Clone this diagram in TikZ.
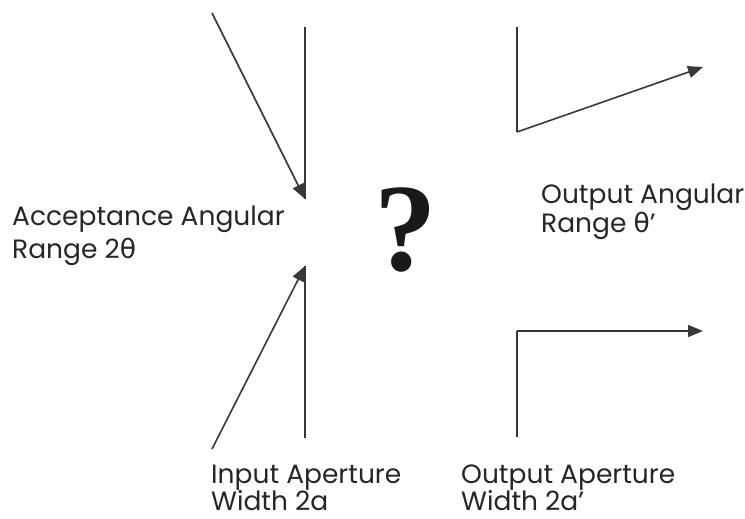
\documentclass[tikz,border=0pt]{standalone}
\usepackage{fontspec}
\setmainfont{Poppins}
\newfontfamily\grk{DejaVu Sans}
\newfontfamily\qfont{Liberation Serif}
\usetikzlibrary{arrows.meta}
\begin{document}
\begin{tikzpicture}[x=1pt,y=-1pt,
  ray/.style={line width=1.6pt, draw=black!78},
  tipped/.style={-{Triangle[length=15pt,width=12pt]}},
  lbl/.style={anchor=base west, inner sep=0pt, font=\fontsize{26.5}{30}\selectfont, text=black!85}]
\useasboundingbox (0,0) rectangle (745,519);
% input aperture
\coordinate (inTop) at (305,27);
\coordinate (inUpEnd) at (305,199);
\coordinate (inLowEnd) at (305,266);
\coordinate (inBot) at (305,438);
\coordinate (rayInA) at (212,13);
\coordinate (rayInB) at (212,449);
\draw[ray] (inTop) -- (inUpEnd);
\draw[ray,tipped] (rayInA) -- (inUpEnd);
\draw[ray] (inLowEnd) -- (inBot);
\draw[ray,tipped] (rayInB) -- (inLowEnd);
% output aperture
\coordinate (outTop) at (517,27);
\coordinate (outUpCorner) at (517,132);
\coordinate (outUpTip) at (703,67);
\coordinate (outBot) at (517,437);
\coordinate (outLowCorner) at (517,331);
\coordinate (outLowTip) at (703,331);
\draw[ray] (outTop) -- (outUpCorner);
\draw[ray,tipped] (outUpCorner) -- (outUpTip);
\draw[ray] (outBot) -- (outLowCorner);
\draw[ray,tipped] (outLowCorner) -- (outLowTip);
% question mark
\node[inner sep=0pt, font=\qfont\bfseries\fontsize{125}{125}\selectfont, text=black!90] (qm) at (406,230) {?};
% labels
\node[lbl] (acc1) at (12,225) {Acceptance Angular};
\node[lbl] (acc2) at (12,258) {Range 2{\grk θ}};
\node[lbl] (out1) at (541,203) {Output Angular};
\node[lbl] (out2) at (541,232) {Range {\grk θ}’};
\node[lbl] (inap1) at (211,483) {Input Aperture};
\node[lbl, text depth=0pt] (inap2) at (211,510) {Width 2a};
\node[lbl] (outap1) at (461,483) {Output Aperture};
\node[lbl, text depth=0pt] (outap2) at (461,510) {Width 2a’};
\end{tikzpicture}
\end{document}
